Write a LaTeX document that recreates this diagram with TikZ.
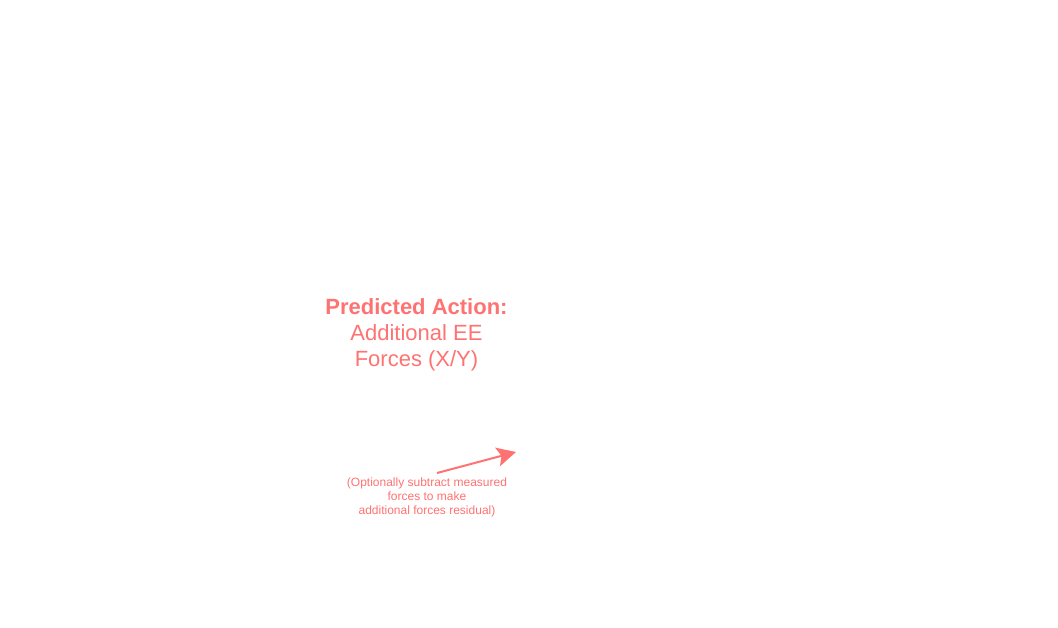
\documentclass[tikz,border=0pt]{standalone}
\usepackage{fontspec}
\setmainfont{Liberation Sans}
\usetikzlibrary{arrows.meta}
\definecolor{salmon}{HTML}{FF7272}
\tikzset{
  bigtext/.style={text=salmon, align=center, inner sep=0pt, font=\fontsize{22}{26}\selectfont},
  smalltext/.style={text=salmon, align=center, inner sep=0pt, font=\fontsize{12}{14}\selectfont},
  pointer/.style={draw=salmon, line width=2pt, -{Stealth[length=19pt,width=19pt,inset=4pt]}}
}
\begin{document}
\begin{tikzpicture}[x=1pt,y=-1pt]
\useasboundingbox (0,0) rectangle (1058,628);
\node[bigtext] (action) at (416.5,335) {\textbf{Predicted Action:}\\Additional EE\\Forces (X/Y)};
\node[smalltext] (note) at (427,497) {(Optionally subtract measured\\forces to make\\additional forces residual)};
\coordinate (tail) at (437,473);
\coordinate (tip) at (516,452);
\draw[pointer] (tail) -- (tip);
\end{tikzpicture}
\end{document}
